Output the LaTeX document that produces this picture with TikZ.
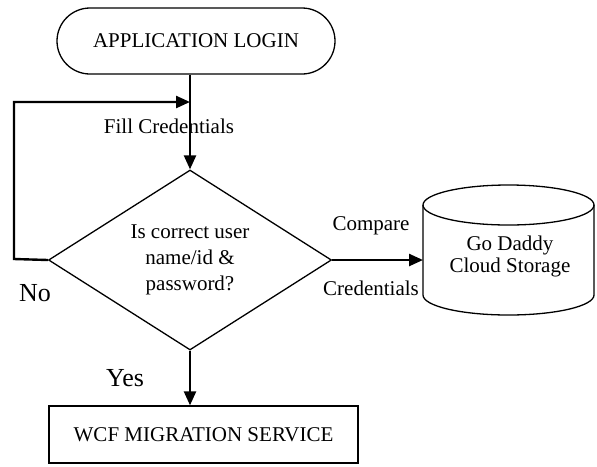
\documentclass[tikz,border=0pt]{standalone}
\usepackage{fontspec}
\setmainfont{Liberation Serif}
\usetikzlibrary{shapes.geometric,arrows.meta}
\begin{document}
\begin{tikzpicture}[x=0.5pt,y=-0.5pt,
  txt/.style={font=\rmfamily\fontsize{10.5}{13}\selectfont,inner sep=0pt,align=center},
  big/.style={font=\rmfamily\fontsize{13}{15}\selectfont,inner sep=0pt},
  thin/.style={line width=0.65pt},
  flow/.style={line width=1.2pt,-{Triangle[length=7pt,width=6pt]}},
  term/.style={draw,thin,rounded corners=16.5pt,minimum width=139pt,minimum height=33pt,txt},
  dec/.style={draw,thin,diamond,minimum width=141.5pt,minimum height=90pt,aspect=1.57,inner sep=0pt,txt},
  proc/.style={draw,thin,minimum width=154.5pt,minimum height=28.5pt,txt}]
\useasboundingbox (0,0) rectangle (597,466);
\node[term] (login) at (196,41) {APPLICATION LOGIN};
\node[dec] (dia) at (190,260) {Is correct user\\ name/id \&\\ password?};
\node[proc] (wcf) at (203.5,434.5) {WCF MIGRATION SERVICE};
% cylinder
\draw[thin] (423,205) -- (423,295) arc[start angle=180,end angle=360,x radius=42.75pt,y radius=10pt] -- (594,205);
\draw[thin] (508.5,205) ellipse[x radius=42.75pt,y radius=10pt];
\node[txt,font=\rmfamily\fontsize{10.5}{11}\selectfont] (cyl) at (510,256) {Go Daddy\\ Cloud Storage};
\coordinate (cylw) at (423,260);
\coordinate (jn) at (190,102);
\coordinate (lc) at (14,259);
% connectors
\draw[flow] (login.south -| dia.north) -- (dia.north);
\draw[flow] (dia.west) -- (lc) |- (jn);
\draw[flow] (dia.east) -- (cylw);
\draw[flow] (dia.south) -- (wcf.north -| dia.south);
% labels
\node[txt] (fill) at (169,126) {Fill Credentials};
\node[txt] (cmp) at (371,226) {Compare};
\node[txt] (cred) at (371,288) {Credentials};
\node[big] (no) at (35,293) {No};
\node[big] (yes) at (125,378) {Yes};
\end{tikzpicture}
\end{document}
